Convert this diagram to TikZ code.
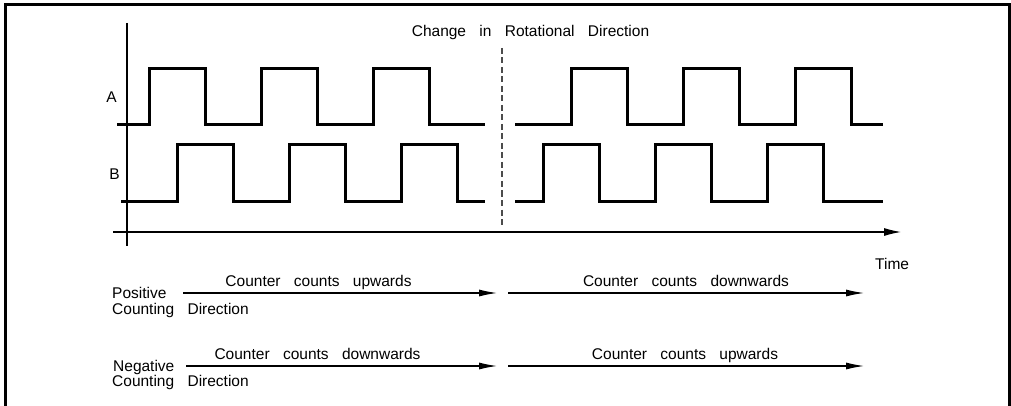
\documentclass[tikz,border=0pt]{standalone}
\usepackage{fontspec}
\setmainfont[WordSpace=3.1]{Liberation Sans}
\usetikzlibrary{arrows.meta}
\tikzset{
  sig/.style={line width=3pt, line join=miter, line cap=butt},
  axis/.style={line width=1.1pt},
  cnt/.style={line width=1.1pt, -{Latex[length=18pt,width=7pt]}},
  lbl/.style={inner sep=0pt, font=\fontsize{15.5}{16}\selectfont},
}
\begin{document}
\begin{tikzpicture}[x=1pt,y=-1pt]
\useasboundingbox (0,0) rectangle (1011,406);
% frame
\draw[line width=3pt] (5,410) -- (5,4.5) -- (1009,4.5) -- (1009,410);
% axes
\coordinate (vtop) at (127,23);
\coordinate (vbot) at (127,246);
\coordinate (hl) at (113,232);
\coordinate (hr) at (901,232);
\draw[axis] (vtop) -- (vbot);
\draw[axis, -{Latex[length=17pt,width=8pt]}] (hl) -- (hr);
% change of direction
\coordinate (dtop) at (502,48);
\coordinate (dbot) at (502,228);
\draw[line width=1.1pt, dash pattern=on 6pt off 3.5pt, draw=black!70] (dtop) -- (dbot);
\node[lbl, anchor=base] (title) at (530.5,37) {Change in Rotational Direction};
% signal A
\draw[sig] (117,125) -- (149,125) -- (149,69) -- (205,69) -- (205,125) -- (261,125) -- (261,69) -- (317,69) -- (317,125) -- (373,125) -- (373,69) -- (429,69) -- (429,125) -- (485,125);
\draw[sig] (515,125) -- (571,125) -- (571,69) -- (627,69) -- (627,125) -- (683,125) -- (683,69) -- (739,69) -- (739,125) -- (795,125) -- (795,69) -- (851,69) -- (851,125) -- (883,125);
% signal B
\draw[sig] (121,201) -- (177,201) -- (177,145) -- (233,145) -- (233,201) -- (289,201) -- (289,145) -- (345,145) -- (345,201) -- (401,201) -- (401,145) -- (457,145) -- (457,201) -- (485,201);
\draw[sig] (515,201) -- (543,201) -- (543,145) -- (599,145) -- (599,201) -- (655,201) -- (655,145) -- (711,145) -- (711,201) -- (767,201) -- (767,145) -- (823,145) -- (823,201) -- (883,201);
\node[lbl, anchor=base] (A) at (111.5,103) {A};
\node[lbl, anchor=base] (B) at (114.5,179) {B};
\node[lbl, anchor=base west] (time) at (875,269) {Time};
% positive counting direction
\node[lbl, anchor=base west] (pos1) at (112,298) {Positive};
\node[lbl, anchor=base west] (pos2) at (112,314) {Counting Direction};
\coordinate (p1s) at (183,293);
\coordinate (p1e) at (497,293);
\coordinate (p2s) at (508,293);
\coordinate (p2e) at (864,293);
\draw[cnt] (p1s) -- (p1e);
\draw[cnt] (p2s) -- (p2e);
\node[lbl, anchor=base] (pu) at (318.5,286) {Counter counts upwards};
\node[lbl, anchor=base] (pd) at (686,286) {Counter counts downwards};
% negative counting direction
\node[lbl, anchor=base west] (neg1) at (113,371) {Negative};
\node[lbl, anchor=base west] (neg2) at (112,386) {Counting Direction};
\coordinate (n1s) at (186,366);
\coordinate (n1e) at (497,366);
\coordinate (n2s) at (508,366);
\coordinate (n2e) at (864,366);
\draw[cnt] (n1s) -- (n1e);
\draw[cnt] (n2s) -- (n2e);
\node[lbl, anchor=base] (nd) at (317.5,359) {Counter counts downwards};
\node[lbl, anchor=base] (nu) at (685,359) {Counter counts upwards};
\end{tikzpicture}
\end{document}
